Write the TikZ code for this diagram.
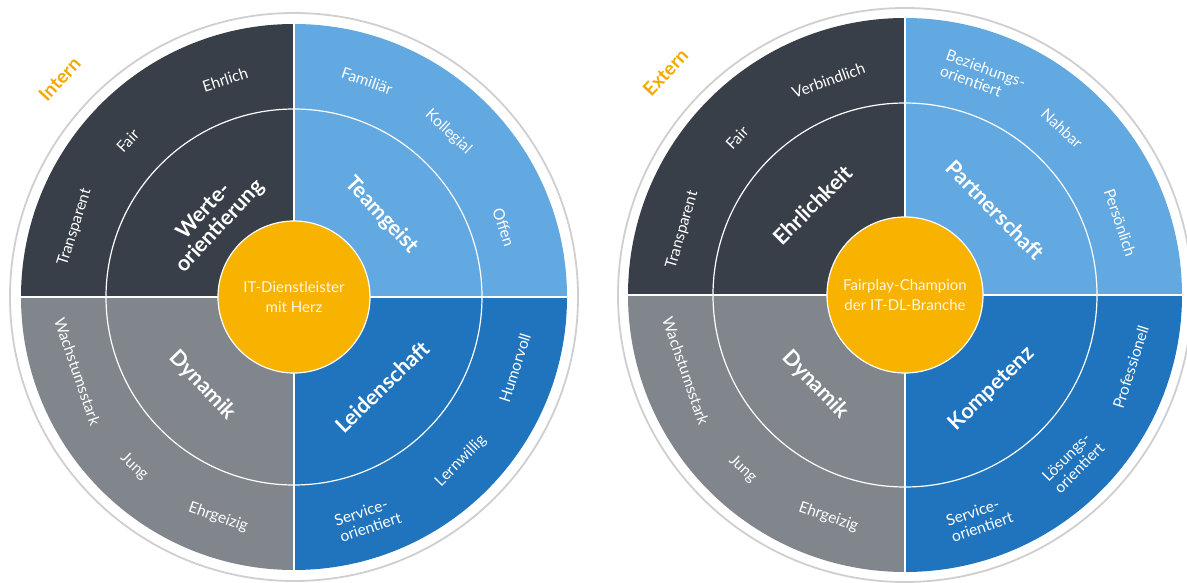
\documentclass[tikz,border=0pt]{standalone}
\usepackage{fontspec}
\setmainfont{Lato}
\definecolor{slatedark}{HTML}{383F48}
\definecolor{skyblue}{HTML}{62A8E1}
\definecolor{oceanblue}{HTML}{1F74BD}
\definecolor{ashgrey}{HTML}{80868C}
\definecolor{coreyellow}{HTML}{F8B200}
\definecolor{tagorange}{HTML}{F4A900}
\definecolor{ringgrey}{HTML}{CFCFCF}
\tikzstyle{trait} = [text=white, 
align=left, 
inner sep=0pt, 
font=\fontsize{15.5}{17}\selectfont]
\tikzstyle{value} = [text=white, 
align=center, 
inner sep=0pt, 
font=\bfseries\fontsize{21.5}{22}\selectfont]
\tikzstyle{core} = [circle, 
fill=coreyellow, 
draw=white, 
line width=1.2pt, 
text=white!90!coreyellow, 
align=center, 
font=\fontsize{15}{19.5}\selectfont]
\tikzstyle{side} = [text=tagorange, font=\bfseries\fontsize{19}{20}\selectfont]
\tikzstyle{divider} = [white, line width=1.2pt]
\tikzstyle{rim} = [ringgrey, line width=1.8pt]

\begin{document}
\begin{tikzpicture}[x=1pt, y=1pt]
	\useasboundingbox (0,0) rectangle (1187,582);
	\fill[white] (0,0) rectangle (1187,582);

	% Intern
	\begin{scope}[shift={(294,285)}]
	\draw[rim] (0,0) circle (284);
	\fill[slatedark] (0,0) -- (90:273) arc (90:180:273) -- cycle;
	\fill[skyblue] (0,0) -- (0:273) arc (0:90:273) -- cycle;
	\fill[oceanblue] (0,0) -- (270:273) arc (270:360:273) -- cycle;
	\fill[ashgrey] (0,0) -- (180:273) arc (180:270:273) -- cycle;
	\draw[divider] (0,0) circle (188);
	\draw[divider] (-273,0) -- (273,0);
	\draw[divider] (0,-273) -- (0,273);
	\node (int_core) [core, minimum size=152pt] at (0,0) {IT-Dienstleister\\mit Herz};

	\node (int_werte) [value, rotate=47] at (136.4:113) {Werte-\\orientierung};
	\node (int_team) [value, rotate=-47] at (43:120) {Teamgeist};
	\node (int_dynamik) [value, rotate=-46] at (224:127) {Dynamik};
	\node (int_leiden) [value, rotate=44] at (-45.6:126) {Leidenschaft};

	\node (int_transparent) [trait, rotate=72.4] at (162.4:230) {Transparent};
	\node (int_fair) [trait, rotate=46.8] at (136.8:228) {Fair};
	\node (int_ehrlich) [trait, rotate=17.6] at (107.6:228) {Ehrlich};
	\node (int_familiaer) [trait, rotate=-18.7] at (71.3:228) {Familiär};
	\node (int_kollegial) [trait, rotate=-43.1] at (46.9:226) {Kollegial};
	\node (int_offen) [trait, rotate=-71.6] at (18.4:221) {Offen};
	\node (int_humorvoll) [trait, rotate=72.2] at (-17.8:232) {Humorvoll};
	\node (int_lernwillig) [trait, rotate=45.5] at (-44.5:234) {Lernwillig};
	\node (int_service) [trait, rotate=18.4] at (-71.6:234) {Service-\\orientiert};
	\node (int_wachstum) [trait, rotate=-71] at (199:229) {Wachstumsstark};
	\node (int_jung) [trait, rotate=-43.3] at (226.7:233) {Jung};
	\node (int_ehrgeizig) [trait, rotate=-19] at (251:233) {Ehrgeizig};

	\node (int_tag) [side, rotate=47] at (137.1:320) {Intern};
	\end{scope}

	% Extern
	\begin{scope}[shift={(905,287)}]
	\draw[rim] (0,0) circle (287);
	\fill[slatedark] (0,0) -- (90:277) arc (90:180:277) -- cycle;
	\fill[skyblue] (0,0) -- (0:277) arc (0:90:277) -- cycle;
	\fill[oceanblue] (0,0) -- (270:277) arc (270:360:277) -- cycle;
	\fill[ashgrey] (0,0) -- (180:277) arc (180:270:277) -- cycle;
	\draw[divider] (0,0) circle (192);
	\draw[divider] (-277,0) -- (277,0);
	\draw[divider] (0,-277) -- (0,277);
	\node (ext_core) [core, minimum size=156pt] at (0,0) {Fairplay-Champion\\der IT-DL-Branche};

	\node (ext_ehrlich) [value, rotate=45] at (135.8:129) {Ehrlichkeit};
	\node (ext_partner) [value, rotate=-45.5] at (43.3:124) {Partnerschaft};
	\node (ext_dynamik) [value, rotate=-46] at (225:127) {Dynamik};
	\node (ext_kompetenz) [value, rotate=44] at (-47.1:128) {Kompetenz};

	\node (ext_transparent) [trait, rotate=73.7] at (163.7:232) {Transparent};
	\node (ext_fair) [trait, rotate=46.9] at (136.9:230) {Fair};
	\node (ext_verbindlich) [trait, rotate=19.6] at (109.6:228) {Verbindlich};
	\node (ext_beziehung) [trait, rotate=-19.7] at (70.3:232) {Beziehungs-\\orientiert};
	\node (ext_nahbar) [trait, rotate=-43.3] at (46.7:229) {Nahbar};
	\node (ext_persoenlich) [trait, rotate=-71.4] at (18.6:227) {Persönlich};
	\node (ext_professionell) [trait, rotate=72.3] at (-17.7:237) {Professionell};
	\node (ext_loesung) [trait, rotate=45.2] at (-44.8:237) {Lösungs-\\orientiert};
	\node (ext_service) [trait, rotate=18.4] at (-71.6:236) {Service-\\orientiert};
	\node (ext_wachstum) [trait, rotate=-70.9] at (199.1:232) {Wachstumsstark};
	\node (ext_jung) [trait, rotate=-43] at (227:238) {Jung};
	\node (ext_ehrgeizig) [trait, rotate=-19] at (251:235) {Ehrgeizig};

	\node (ext_tag) [side, rotate=47] at (137.1:327) {Extern};
	\end{scope}
\end{tikzpicture}
\end{document}
